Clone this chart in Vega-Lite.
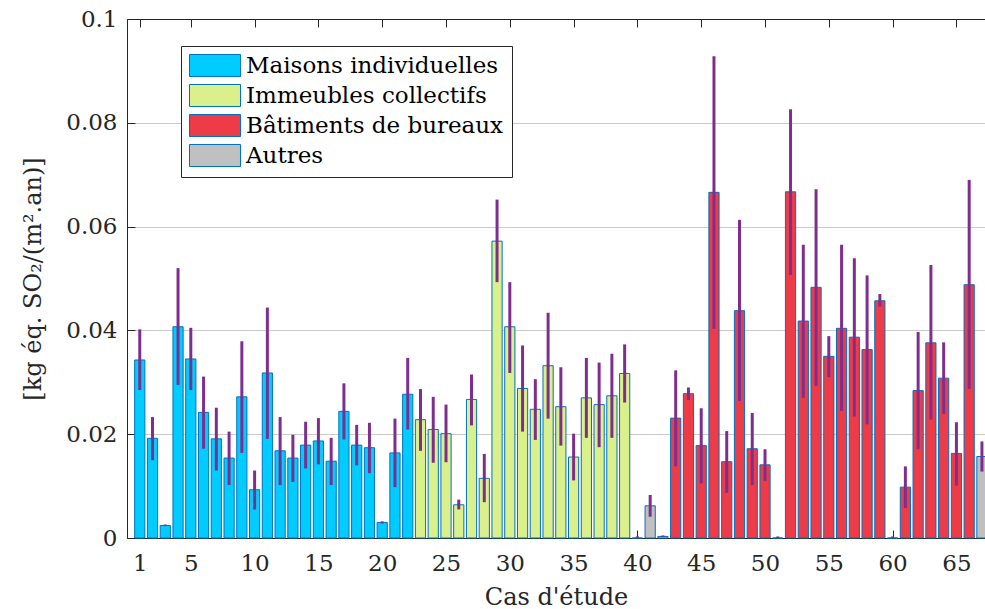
{
  "$schema": "https://vega.github.io/schema/vega-lite/v6.json",
  "width": 858,
  "height": 519,
  "autosize": {"type": "none"},
  "padding": {"left": 127, "top": 19, "right": 0, "bottom": 71},
  "background": "white",
  "config": {
    "font": "DejaVu Serif",
    "view": {"stroke": null},
    "axis": {
      "labelFont": "DejaVu Serif",
      "titleFont": "DejaVu Serif",
      "labelColor": "#262626",
      "titleColor": "#262626",
      "domainColor": "#262626",
      "tickColor": "#262626",
      "labelFontSize": 23,
      "titleFontSize": 24,
      "titleFontWeight": "normal",
      "domainWidth": 1,
      "tickWidth": 1
    }
  },
  "data": {
    "values": [
      {"cas": 1, "type": "Maisons individuelles", "valeur": 0.0343, "lo": 0.0285, "hi": 0.0402},
      {"cas": 2, "type": "Maisons individuelles", "valeur": 0.0192, "lo": 0.0150, "hi": 0.0233},
      {"cas": 3, "type": "Maisons individuelles", "valeur": 0.0024, "lo": 0.0023, "hi": 0.0026},
      {"cas": 4, "type": "Maisons individuelles", "valeur": 0.0407, "lo": 0.0295, "hi": 0.0520},
      {"cas": 5, "type": "Maisons individuelles", "valeur": 0.0345, "lo": 0.0285, "hi": 0.0405},
      {"cas": 6, "type": "Maisons individuelles", "valeur": 0.0242, "lo": 0.0172, "hi": 0.0311},
      {"cas": 7, "type": "Maisons individuelles", "valeur": 0.0191, "lo": 0.0130, "hi": 0.0251},
      {"cas": 8, "type": "Maisons individuelles", "valeur": 0.0154, "lo": 0.0102, "hi": 0.0205},
      {"cas": 9, "type": "Maisons individuelles", "valeur": 0.0272, "lo": 0.0164, "hi": 0.0379},
      {"cas": 10, "type": "Maisons individuelles", "valeur": 0.0093, "lo": 0.0055, "hi": 0.0130},
      {"cas": 11, "type": "Maisons individuelles", "valeur": 0.0318, "lo": 0.0191, "hi": 0.0444},
      {"cas": 12, "type": "Maisons individuelles", "valeur": 0.0168, "lo": 0.0102, "hi": 0.0233},
      {"cas": 13, "type": "Maisons individuelles", "valeur": 0.0154, "lo": 0.0108, "hi": 0.0199},
      {"cas": 14, "type": "Maisons individuelles", "valeur": 0.0179, "lo": 0.0134, "hi": 0.0224},
      {"cas": 15, "type": "Maisons individuelles", "valeur": 0.0187, "lo": 0.0142, "hi": 0.0231},
      {"cas": 16, "type": "Maisons individuelles", "valeur": 0.0148, "lo": 0.0102, "hi": 0.0193},
      {"cas": 17, "type": "Maisons individuelles", "valeur": 0.0244, "lo": 0.0190, "hi": 0.0298},
      {"cas": 18, "type": "Maisons individuelles", "valeur": 0.0179, "lo": 0.0140, "hi": 0.0218},
      {"cas": 19, "type": "Maisons individuelles", "valeur": 0.0174, "lo": 0.0125, "hi": 0.0222},
      {"cas": 20, "type": "Maisons individuelles", "valeur": 0.0030, "lo": 0.0028, "hi": 0.0032},
      {"cas": 21, "type": "Maisons individuelles", "valeur": 0.0164, "lo": 0.0098, "hi": 0.0230},
      {"cas": 22, "type": "Maisons individuelles", "valeur": 0.0277, "lo": 0.0209, "hi": 0.0347},
      {"cas": 23, "type": "Immeubles collectifs", "valeur": 0.0228, "lo": 0.0168, "hi": 0.0287},
      {"cas": 24, "type": "Immeubles collectifs", "valeur": 0.0209, "lo": 0.0145, "hi": 0.0272},
      {"cas": 25, "type": "Immeubles collectifs", "valeur": 0.0201, "lo": 0.0146, "hi": 0.0257},
      {"cas": 26, "type": "Immeubles collectifs", "valeur": 0.0064, "lo": 0.0055, "hi": 0.0074},
      {"cas": 27, "type": "Immeubles collectifs", "valeur": 0.0267, "lo": 0.0217, "hi": 0.0315},
      {"cas": 28, "type": "Immeubles collectifs", "valeur": 0.0115, "lo": 0.0069, "hi": 0.0162},
      {"cas": 29, "type": "Immeubles collectifs", "valeur": 0.0572, "lo": 0.0493, "hi": 0.0652},
      {"cas": 30, "type": "Immeubles collectifs", "valeur": 0.0407, "lo": 0.0318, "hi": 0.0493},
      {"cas": 31, "type": "Immeubles collectifs", "valeur": 0.0288, "lo": 0.0205, "hi": 0.0371},
      {"cas": 32, "type": "Immeubles collectifs", "valeur": 0.0248, "lo": 0.0189, "hi": 0.0306},
      {"cas": 33, "type": "Immeubles collectifs", "valeur": 0.0332, "lo": 0.0230, "hi": 0.0434},
      {"cas": 34, "type": "Immeubles collectifs", "valeur": 0.0253, "lo": 0.0178, "hi": 0.0329},
      {"cas": 35, "type": "Immeubles collectifs", "valeur": 0.0156, "lo": 0.0111, "hi": 0.0201},
      {"cas": 36, "type": "Immeubles collectifs", "valeur": 0.0270, "lo": 0.0193, "hi": 0.0347},
      {"cas": 37, "type": "Immeubles collectifs", "valeur": 0.0257, "lo": 0.0175, "hi": 0.0338},
      {"cas": 38, "type": "Immeubles collectifs", "valeur": 0.0274, "lo": 0.0193, "hi": 0.0355},
      {"cas": 39, "type": "Immeubles collectifs", "valeur": 0.0317, "lo": 0.0261, "hi": 0.0373},
      {"cas": 40, "type": "Immeubles collectifs", "valeur": 0, "lo": 0, "hi": 0.0003},
      {"cas": 41, "type": "Autres", "valeur": 0.0062, "lo": 0.0041, "hi": 0.0083},
      {"cas": 42, "type": "Autres", "valeur": 0.0003, "lo": 0.0002, "hi": 0.0005},
      {"cas": 43, "type": "Bâtiments de bureaux", "valeur": 0.0231, "lo": 0.0138, "hi": 0.0323},
      {"cas": 44, "type": "Bâtiments de bureaux", "valeur": 0.0278, "lo": 0.0266, "hi": 0.0290},
      {"cas": 45, "type": "Bâtiments de bureaux", "valeur": 0.0178, "lo": 0.0105, "hi": 0.0250},
      {"cas": 46, "type": "Bâtiments de bureaux", "valeur": 0.0666, "lo": 0.0403, "hi": 0.0928},
      {"cas": 47, "type": "Bâtiments de bureaux", "valeur": 0.0147, "lo": 0.0087, "hi": 0.0206},
      {"cas": 48, "type": "Bâtiments de bureaux", "valeur": 0.0438, "lo": 0.0264, "hi": 0.0613},
      {"cas": 49, "type": "Bâtiments de bureaux", "valeur": 0.0172, "lo": 0.0102, "hi": 0.0241},
      {"cas": 50, "type": "Bâtiments de bureaux", "valeur": 0.0141, "lo": 0.0110, "hi": 0.0171},
      {"cas": 51, "type": "Bâtiments de bureaux", "valeur": 0, "lo": 0, "hi": 0.0003},
      {"cas": 52, "type": "Bâtiments de bureaux", "valeur": 0.0667, "lo": 0.0507, "hi": 0.0826},
      {"cas": 53, "type": "Bâtiments de bureaux", "valeur": 0.0418, "lo": 0.0270, "hi": 0.0565},
      {"cas": 54, "type": "Bâtiments de bureaux", "valeur": 0.0483, "lo": 0.0293, "hi": 0.0672},
      {"cas": 55, "type": "Bâtiments de bureaux", "valeur": 0.0350, "lo": 0.0310, "hi": 0.0389},
      {"cas": 56, "type": "Bâtiments de bureaux", "valeur": 0.0404, "lo": 0.0245, "hi": 0.0565},
      {"cas": 57, "type": "Bâtiments de bureaux", "valeur": 0.0387, "lo": 0.0234, "hi": 0.0539},
      {"cas": 58, "type": "Bâtiments de bureaux", "valeur": 0.0363, "lo": 0.0219, "hi": 0.0506},
      {"cas": 59, "type": "Bâtiments de bureaux", "valeur": 0.0457, "lo": 0.0446, "hi": 0.0470},
      {"cas": 60, "type": "Bâtiments de bureaux", "valeur": 0, "lo": 0, "hi": 0.0003},
      {"cas": 61, "type": "Bâtiments de bureaux", "valeur": 0.0098, "lo": 0.0058, "hi": 0.0138},
      {"cas": 62, "type": "Bâtiments de bureaux", "valeur": 0.0284, "lo": 0.0171, "hi": 0.0397},
      {"cas": 63, "type": "Bâtiments de bureaux", "valeur": 0.0376, "lo": 0.0228, "hi": 0.0526},
      {"cas": 64, "type": "Bâtiments de bureaux", "valeur": 0.0308, "lo": 0.0239, "hi": 0.0377},
      {"cas": 65, "type": "Bâtiments de bureaux", "valeur": 0.0163, "lo": 0.0101, "hi": 0.0223},
      {"cas": 66, "type": "Bâtiments de bureaux", "valeur": 0.0488, "lo": 0.0287, "hi": 0.0690},
      {"cas": 67, "type": "Autres", "valeur": 0.0157, "lo": 0.0128, "hi": 0.0186}
    ]
  },
  "layer": [
    {
      "mark": {"type": "bar", "width": 10.2, "stroke": "#0072BD", "strokeWidth": 1},
      "encoding": {
        "x": {
          "field": "cas", "type": "quantitative",
          "scale": {"domain": [0, 67.24], "nice": false, "zero": false, "padding": 0},
          "axis": {
            "orient": "bottom",
            "values": [1, 5, 10, 15, 20, 25, 30, 35, 40, 45, 50, 55, 60, 65],
            "tickSize": -8, "labelPadding": 22, "labelFlush": false,
            "grid": false, "title": "Cas d'étude", "titlePadding": 10
          }
        },
        "y": {
          "field": "valeur", "type": "quantitative",
          "scale": {"domain": [0, 0.1], "nice": false},
          "axis": {
            "values": [0, 0.02, 0.04, 0.06, 0.08, 0.1],
            "format": ".2~f",
            "grid": true, "gridColor": "#cccccc",
            "tickSize": -8, "labelPadding": 18,
            "title": "[kg éq. SO₂/(m².an)]", "titlePadding": 20
          }
        },
        "color": {
          "field": "type", "type": "nominal",
          "scale": {
            "domain": ["Maisons individuelles", "Immeubles collectifs", "Bâtiments de bureaux", "Autres"],
            "range": ["#00CCFF", "#DAF08C", "#EE3B48", "#C0C0C0"]
          },
          "legend": {
            "orient": "none", "legendX": 54, "legendY": 27,
            "title": null,
            "symbolType": "M-1,-1H3.636V1H-1Z",
            "symbolSize": 484,
            "symbolStrokeColor": "#0072BD",
            "symbolStrokeWidth": 1,
            "symbolOpacity": 1,
            "labelFont": "DejaVu Serif",
            "labelFontSize": 23,
            "labelColor": "#000000",
            "labelOffset": 34,
            "labelLimit": 400,
            "rowPadding": 3,
            "padding": 8,
            "fillColor": "white",
            "strokeColor": "#262626",
            "cornerRadius": 0
          }
        }
      }
    },
    {
      "mark": {"type": "rule", "color": "#7E2F8E", "strokeWidth": 3},
      "encoding": {
        "x": {
          "field": "cas", "type": "quantitative",
          "scale": {"domain": [0, 67.24], "nice": false, "zero": false, "padding": 0},
          "axis": {
            "orient": "top",
            "values": [1, 5, 10, 15, 20, 25, 30, 35, 40, 45, 50, 55, 60, 65],
            "tickSize": -8, "labels": false, "grid": false, "title": null
          }
        },
        "y": {
          "field": "lo", "type": "quantitative",
          "scale": {"domain": [0, 0.1], "nice": false},
          "axis": {
            "values": [0, 0.02, 0.04, 0.06, 0.08, 0.1],
            "format": ".2~f",
            "grid": true, "gridColor": "#cccccc",
            "tickSize": -8, "labelPadding": 18,
            "title": "[kg éq. SO₂/(m².an)]", "titlePadding": 20
          }
        },
        "y2": {"field": "hi"}
      }
    }
  ],
  "resolve": {"scale": {"x": "independent"}, "axis": {"x": "independent"}}
}
